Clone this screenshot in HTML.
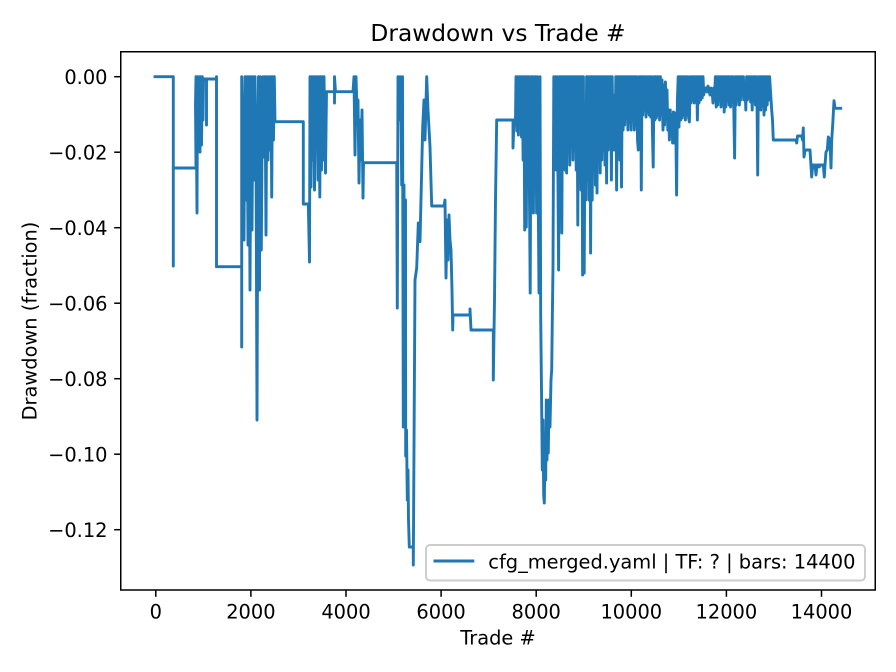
<!DOCTYPE html>
<html><head><meta charset="utf-8"><style>
html,body{margin:0;padding:0;background:#fff;}
svg{display:block;}
text{font-family:"DejaVu Sans","Liberation Sans",sans-serif;fill:#000;}
</style></head><body>
<svg width="896" height="672" viewBox="0 0 896 672" xmlns="http://www.w3.org/2000/svg">
<rect x="0" y="0" width="896" height="672" fill="#fff"/>
<defs><clipPath id="ax"><rect x="121" y="52" width="754" height="538"/></clipPath></defs>
<g clip-path="url(#ax)">
<path fill="none" stroke="#1f77b4" stroke-width="2.9" stroke-linejoin="round" stroke-linecap="square" d="
M155,76.7 H173.3 V266 V168 H196
L195.5,104 L196,76.7 L197,213 L197.5,76.7 L198.5,150 L199,76.7 L200,152 L200.7,76.7 L201.5,145 L202.3,76.7 L203,120 L203.5,79
H206.5 V125 V79 H216.5 V76.7 V266.7 H241.7
V347 V76.7 L244,240 L245,76.7 L246,200 L247,76.7 L248,245 L249,76.7 L250,290 L251,76.7 L252,230 L253,76.7 L254,180 L255,76.7 L256,148 L257,420 L257.7,200 L258.5,76.7 L259.5,290 L260.3,76.7 L261.3,250 L262,150
L263,76.7 L264,157 L265,76.7 L266,235 L266.8,76.7 L268,160 L269,76.7 L270,150 L271,76.7 L271.7,197 L272.5,76.7 L273.5,140 L274.3,76.7 L275,121.7
H303.3 V204 H308.3 L309.5,262 L310,76.7
L311,187 L311.8,76.7 L312.8,160 L313.6,76.7 L314.5,190 L315.3,76.7 L316.3,140 L317,76.7 L318,180 L318.8,76.7 L319.8,197 L320.6,76.7 L321.5,170 L322.3,76.7 L323,160 L324,76.7 L325.5,173 L326.5,91.7 H334.5 V103 V76.7 L335.5,91.7 H353
L354,76.7 L355,155 L356,76.7 L357,110 L358,100 L359,183 L360,120 L361,160 L362,110 L363,198 L363.5,162.7
H396.7 L397.3,308 L398,76.7 L399,120 L400,76.7 L401,110 L401.7,185 L402.5,76.7 L403.3,427 L404,185 L404.7,360 L405.5,200 L405.7,456 L406.5,430 L407.3,500 L408,470 L408.5,520 L409.3,547 H413.3 V565 L415,280 L416.7,268 L418.3,223 L420,241.7 L422.7,126.7 L424,100 L425,140 L426.7,76.7 L428,110 L430,146.7 L431.7,206 H444 L445,200 L446,278 L447,220 L448,260 L449,215 L450,240 L451,250 L452,290 L452.7,330 L453,315 H470 V309 L471,330 H493.3 V380 L494.5,300 L495.5,200 L496.7,120 H513 V148 L514,120 L515.5,120
L516,76.7 L516.8,131 L517.6,76.7 L518.4,135 L519.2,76.7 L520,128 L520.8,76.7 L521.5,137 L522.3,76.7 L523.1,160 L523.9,76.7 L524.7,230 L525.5,76.7 L526.3,227 L527.1,76.7 L527.9,180 L528.7,76.7 L529.5,200 L530.2,293 L531,76.7 L531.8,190 L532.6,76.7 L533.4,213 L534.2,76.7 L535,170 L535.8,76.7 L536.6,213 L537.4,76.7 L538.2,193 L539,293 L540,76.7
L540.7,317 L541.5,390 L542.3,470 L543,420 L543.7,495 L544.3,503 L545,450 L545.7,480 L546.3,400 L547,460 L547.7,420 L548.3,453 L549,400 L550,427 L551,380 L551.7,370 L552.3,320 L553,267
L553.8,76.7 L554.6,150 L555.4,76.7 L556.2,170 L557,76.7 L557.8,160 L558.6,270 L559.4,76.7 L560.2,170 L561,76.7 L561.8,233 L562.6,76.7 L563.4,165 L564.2,76.7 L565,170 L565.8,76.7 L566.6,173 L567.4,76.7 L568.2,150 L569,76.7 L569.8,165 L570.6,76.7 L571.4,140 L572.2,76.7 L573,160 L573.8,76.7 L574.6,150 L575.4,76.7 L576.2,170 L577,76.7 L577.8,225 L578.6,76.7 L579.4,175 L580.2,76.7 L581,190 L581.8,76.7 L582.6,275 L583.4,76.7 L584.2,273 L585,120 L585.8,200 L586.6,76.7 L587.4,180 L588.2,76.7 L589,200 L589.8,76.7 L590.6,253 L591.4,76.7 L592.2,200 L593,76.7 L593.8,170 L594.6,76.7 L595.4,185 L596.2,76.7 L597,193 L597.8,76.7 L598.6,160 L599.4,76.7 L600.2,173 L601,76.7 L601.8,160 L602.6,76.7 L603.4,150 L604.2,76.7 L605,165 L605.8,76.7 L606.6,183 L607.4,76.7 L608.2,150 L609,76.7 L609.8,140 L610.6,76.7 L611.4,180 L612.2,76.7 L613,150 L613.8,120 L614.4,95 L615,150 L615.8,76.7 L616.6,190 L617.4,76.7 L618.2,150 L619,76.7 L619.8,160 L620.6,76.7 L621.5,187 L622.3,76.7 L623.1,130 L623.9,76.7 L624.7,125 L625.5,76.7 L626.3,113 L627.1,76.7 L627.9,130 L628.7,76.7 L629.5,123 L630.3,76.7 L631.1,130 L631.9,76.7 L632.7,120 L633.5,76.7 L634.3,130 L635.1,76.7 L635.9,125 L636.7,76.7 L637.5,140 L638.3,150 L639.1,76.7 L639.9,120 L640.7,76.7 L641.3,190 L642,76.7 L642.8,115 L643.6,76.7 L644.4,110 L645.2,76.7 L646,117 L646.8,76.7 L647.6,112 L648.4,76.7 L649.2,115 L650,76.7 L650.8,117 L651.6,76.7 L652.4,130 L653.2,167 L654,76.7 L654.8,120 L655.6,76.7 L656.4,118 L657.2,76.7 L658,115 L658.8,76.7 L659.6,120 L660.4,76.7 L661.2,115 L662,80 L663,130 L663.8,85 L664.6,125 L665.4,82 L666.2,115 L667,90 L667.8,130 L668.6,110 L669.4,140 L670.2,110 L671,135 L671.8,115 L672.6,143 L673.4,112 L674.2,143 L675,113 L675.8,125 L676.6,195 L677.4,100 L678.2,76.7 L679,127 L679.8,76.7 L680.6,120 L681.4,76.7 L682.2,118 L683,76.7 L683.8,115 L684.6,76.7 L685.4,120 L686.2,76.7 L687,115 L687.8,76.7 L688.6,118 L689.4,122 L690.2,76.7 L691,103 L691.8,76.7 L692.6,100 L693.4,76.7 L694.2,103 L695,76.7 L695.8,100 L696.6,76.7 L697.4,120 L698.2,76.7 L699,103 L699.8,76.7 L700.6,100 L701.4,76.7 L702.2,98 L703,76.7 L703.8,95 L704.6,88 L706,88 L707,92 L708,86 L709,90 L710,95 L711,88 L712,90 L713,103 L713.8,88 L714.6,96 L715.4,76.7 L716.2,107 L717,76.7 L717.8,105 L718.6,76.7 L719.4,100 L720.2,76.7 L721,107 L721.8,76.7 L722.6,105 L723.4,76.7 L724.2,112 L725,76.7 L725.8,107 L726.6,76.7 L727.4,100 L728.2,76.7 L729,105 L729.8,76.7 L730.6,107 L731.4,76.7 L732.2,100 L733,76.7 L733.8,110 L734.6,158 L735.4,76.7 L736.2,105 L737,76.7 L737.8,100 L738.6,76.7 L739.4,105 L740.2,76.7 L741,100 L741.8,76.7 L742.6,95 L743.4,76.7 L744.2,100 L745,85 L745.8,110 L746.6,76.7 L747.4,100 L748.2,76.7 L749,98 L749.8,76.7 L750.6,102 L751.4,76.7 L752.2,110 L753,76.7 L753.8,100 L754.6,76.7 L755.4,105 L756.2,76.7 L757,100 L757.7,175 L758.4,76.7 L759.2,100 L760,76.7 L760.8,110 L761.6,76.7 L762.4,105 L763.2,76.7 L764,115 L764.8,76.7 L765.6,110 L766.4,76.7 L767.2,105 L768,76.7 L768.8,100 L769.6,76.7 L770.4,90 L771.7,110 L772.5,120 L773.3,140
H796 L796.7,143 L797.5,136 H801.7 L802.5,140 L803.3,128 L804,157 L805,150 H810 L811.7,177 L812.7,165 H815 L816,175 L817,165 H819 L819.3,167 L820,165 H823.3 L824.3,177 L825,165 L826,152 L827.3,150 L828.3,137 L830,140 L831,168 L831.7,140 L832.7,125 L834,100.7 L835,108.3 H840.7"/>
</g>
<!-- spines -->
<rect x="120.75" y="51.75" width="754.5" height="538.25" fill="none" stroke="#000" stroke-width="1.5"/>
<!-- x ticks -->
<g stroke="#000" stroke-width="1.5">
<line x1="155.8" y1="590" x2="155.8" y2="596.8"/>
<line x1="250.9" y1="590" x2="250.9" y2="596.8"/>
<line x1="346" y1="590" x2="346" y2="596.8"/>
<line x1="441.1" y1="590" x2="441.1" y2="596.8"/>
<line x1="536.2" y1="590" x2="536.2" y2="596.8"/>
<line x1="631.3" y1="590" x2="631.3" y2="596.8"/>
<line x1="726.4" y1="590" x2="726.4" y2="596.8"/>
<line x1="821.5" y1="590" x2="821.5" y2="596.8"/>
<line x1="114.2" y1="76.7" x2="121" y2="76.7"/>
<line x1="114.2" y1="152.2" x2="121" y2="152.2"/>
<line x1="114.2" y1="227.7" x2="121" y2="227.7"/>
<line x1="114.2" y1="303.2" x2="121" y2="303.2"/>
<line x1="114.2" y1="378.7" x2="121" y2="378.7"/>
<line x1="114.2" y1="454.2" x2="121" y2="454.2"/>
<line x1="114.2" y1="529.7" x2="121" y2="529.7"/>
</g>
<g font-size="19.4" text-anchor="middle">
<text x="155.8" y="618.5">0</text>
<text x="250.9" y="618.5">2000</text>
<text x="346" y="618.5">4000</text>
<text x="441.1" y="618.5">6000</text>
<text x="536.2" y="618.5">8000</text>
<text x="631.3" y="618.5">10000</text>
<text x="726.4" y="618.5">12000</text>
<text x="821.5" y="618.5">14000</text>
</g>
<g font-size="19.4" text-anchor="end">
<text x="107.5" y="83.8">0.00</text>
<text x="107.5" y="159.3">−0.02</text>
<text x="107.5" y="234.8">−0.04</text>
<text x="107.5" y="310.3">−0.06</text>
<text x="107.5" y="385.8">−0.08</text>
<text x="107.5" y="461.3">−0.10</text>
<text x="107.5" y="536.8">−0.12</text>
</g>
<text x="498" y="41" font-size="23.3" text-anchor="middle">Drawdown vs Trade #</text>
<text x="498" y="644.5" font-size="19.4" text-anchor="middle">Trade #</text>
<text transform="translate(36.5,321) rotate(-90)" font-size="19.4" text-anchor="middle">Drawdown (fraction)</text>
<!-- legend -->
<rect x="426" y="545" width="439" height="35.5" rx="4" ry="4" fill="#fff" fill-opacity="0.8" stroke="#cccccc" stroke-width="1.9"/>
<line x1="433.5" y1="561" x2="474.3" y2="561" stroke="#1f77b4" stroke-width="2.9"/>
<text x="488.3" y="568.3" font-size="19.4">cfg_merged.yaml | TF: ? | bars: 14400</text>
</svg>
</body></html>
